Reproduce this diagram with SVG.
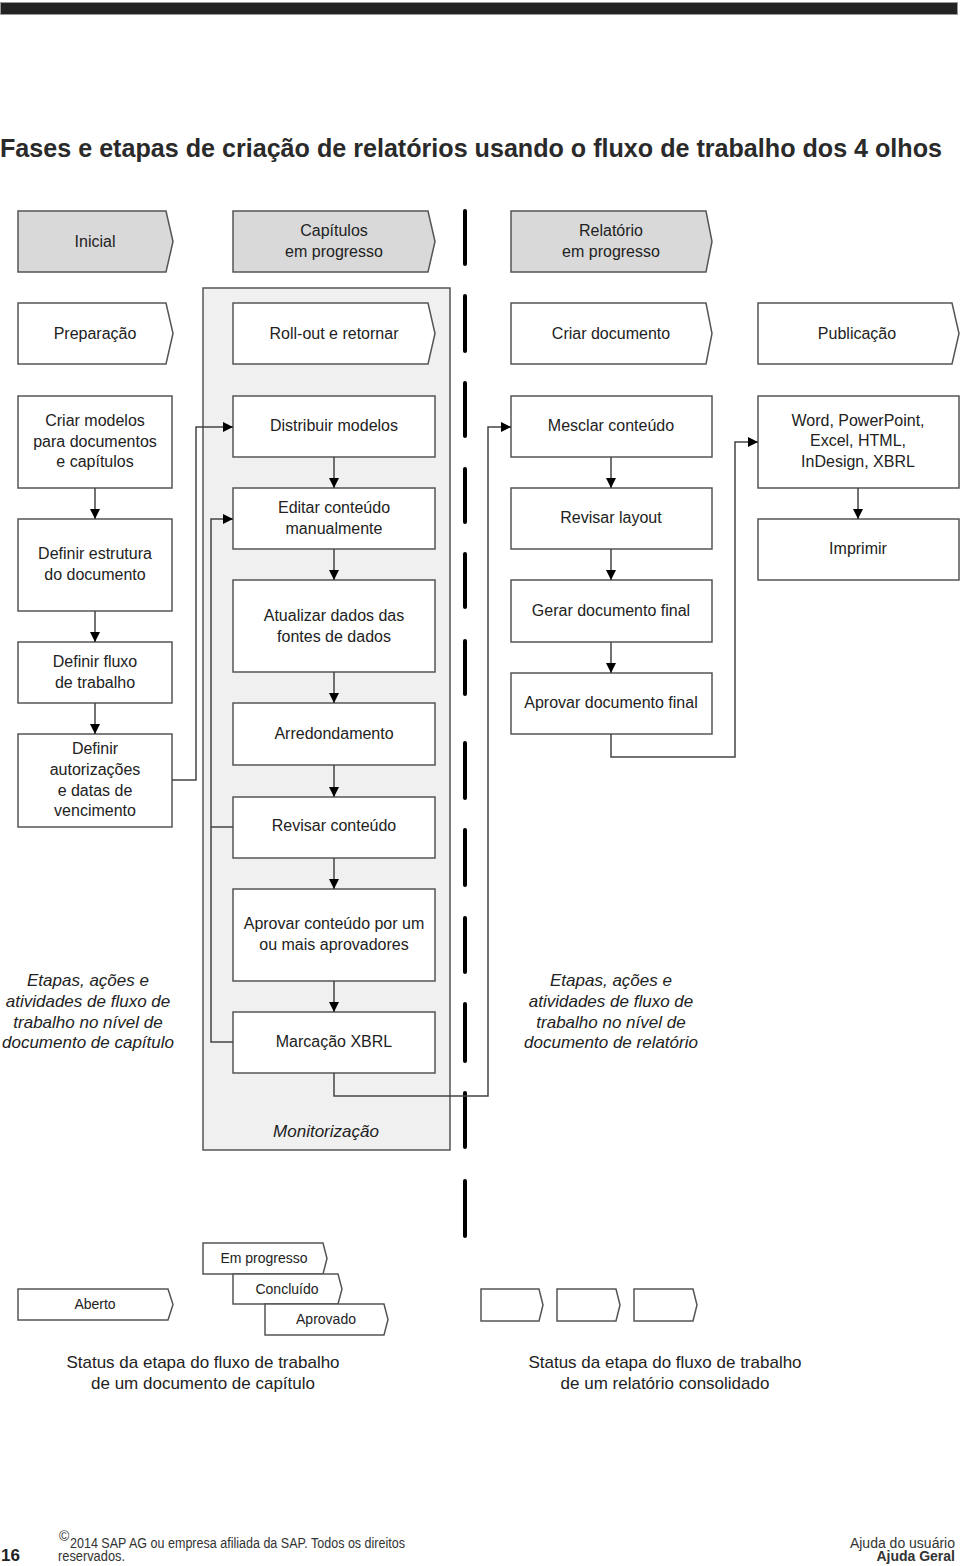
<svg xmlns="http://www.w3.org/2000/svg" width="960" height="1566" viewBox="0 0 960 1566">
<style>
.box{fill:#fff;stroke:#555;stroke-width:1.5}
.hdr{fill:#d9d9d9;stroke:#555;stroke-width:1.5}
.t{font-family:"Liberation Sans",Arial,sans-serif;font-size:16px;fill:#222;text-anchor:middle}
.ts{font-family:"Liberation Sans",Arial,sans-serif;font-size:14px;fill:#222;text-anchor:middle}
.ti{font-family:"Liberation Sans",Arial,sans-serif;font-size:17px;font-style:italic;fill:#222;text-anchor:middle}
.st{font-family:"Liberation Sans",Arial,sans-serif;font-size:17px;fill:#222;text-anchor:middle}
.c{fill:none;stroke:#444;stroke-width:1.5}
.dash{stroke:#000;stroke-width:4;stroke-linecap:round}
.f{font-family:"Liberation Sans",Arial,sans-serif;font-size:14px;fill:#333}
</style>
<defs>
<marker id="ah" viewBox="0 0 10 10" refX="10" refY="5" markerWidth="10" markerHeight="10" markerUnits="userSpaceOnUse" orient="auto">
<path d="M0,0 L10,5 L0,10 Z" fill="#000"/>
</marker>
</defs>
<rect width="960" height="1566" fill="#fff"/>
<rect x="0.5" y="2.5" width="957" height="12" fill="#222" stroke="#999" stroke-width="1"/>
<text x="0" y="157" font-family="Liberation Sans,Arial,sans-serif" font-size="25" font-weight="bold" fill="#2a2a2a" textLength="942" lengthAdjust="spacingAndGlyphs">Fases e etapas de criação de relatórios usando o fluxo de trabalho dos 4 olhos</text>

<g id="monitorizacao">
<rect x="203" y="288" width="247" height="862" fill="#f0f0f0" stroke="#555" stroke-width="1.5"/>
<text x="326" y="1137" class="ti" font-size="20">Monitorização</text>
</g>

<g id="divider">
<line class="dash" x1="465" y1="211" x2="465" y2="264"/>
<line class="dash" x1="465" y1="296" x2="465" y2="351"/>
<line class="dash" x1="465" y1="383" x2="465" y2="436"/>
<line class="dash" x1="465" y1="469" x2="465" y2="522"/>
<line class="dash" x1="465" y1="554" x2="465" y2="607"/>
<line class="dash" x1="465" y1="641" x2="465" y2="694"/>
<line class="dash" x1="465" y1="743" x2="465" y2="798"/>
<line class="dash" x1="465" y1="830" x2="465" y2="885"/>
<line class="dash" x1="465" y1="918" x2="465" y2="972"/>
<line class="dash" x1="465" y1="1004" x2="465" y2="1061"/>
<line class="dash" x1="465" y1="1093" x2="465" y2="1147"/>
<line class="dash" x1="465" y1="1181" x2="465" y2="1236"/>
</g>

<g id="h-inicial"><path class="hdr" d="M18,211 H166 L173,241.5 L166,272 H18 Z"/><text class="t" x="95" y="247">Inicial</text></g>
<g id="h-capitulos"><path class="hdr" d="M233,211 H428 L435,241.5 L428,272 H233 Z"/><text class="t" x="334" y="236">Capítulos</text><text class="t" x="334" y="257">em progresso</text></g>
<g id="h-relatorio"><path class="hdr" d="M511,211 H706 L712,241.5 L706,272 H511 Z"/><text class="t" x="611" y="236">Relatório</text><text class="t" x="611" y="257">em progresso</text></g>

<g id="p-preparacao"><path class="box" d="M18,303 H166 L173,333.5 L166,364 H18 Z"/><text class="t" x="95" y="339">Preparação</text></g>
<g id="p-rollout"><path class="box" d="M233,303 H428 L435,333.5 L428,364 H233 Z"/><text class="t" x="334" y="339">Roll-out e retornar</text></g>
<g id="p-criar"><path class="box" d="M511,303 H706 L712,333.5 L706,364 H511 Z"/><text class="t" x="611" y="339">Criar documento</text></g>
<g id="p-publicacao"><path class="box" d="M758,303 H952 L959,333.5 L952,364 H758 Z"/><text class="t" x="857" y="339">Publicação</text></g>

<g id="n-criarmodelos"><rect class="box" x="18" y="396" width="154" height="92"/><text class="t" x="95" y="426">Criar modelos</text><text class="t" x="95" y="447">para documentos</text><text class="t" x="95" y="467">e capítulos</text></g>
<g id="n-definirestrutura"><rect class="box" x="18" y="519" width="154" height="92"/><text class="t" x="95" y="559">Definir estrutura</text><text class="t" x="95" y="580">do documento</text></g>
<g id="n-definirfluxo"><rect class="box" x="18" y="642" width="154" height="61"/><text class="t" x="95" y="667">Definir fluxo</text><text class="t" x="95" y="688">de trabalho</text></g>
<g id="n-definirautor"><rect class="box" x="18" y="734" width="154" height="93"/><text class="t" x="95" y="754">Definir</text><text class="t" x="95" y="775">autorizações</text><text class="t" x="95" y="796">e datas de</text><text class="t" x="95" y="816">vencimento</text></g>

<g id="n-distribuir"><rect class="box" x="233" y="396" width="202" height="61"/><text class="t" x="334" y="431">Distribuir modelos</text></g>
<g id="n-editar"><rect class="box" x="233" y="488" width="202" height="61"/><text class="t" x="334" y="513">Editar conteúdo</text><text class="t" x="334" y="534">manualmente</text></g>
<g id="n-atualizar"><rect class="box" x="233" y="580" width="202" height="92"/><text class="t" x="334" y="621">Atualizar dados das</text><text class="t" x="334" y="642">fontes de dados</text></g>
<g id="n-arredondamento"><rect class="box" x="233" y="703" width="202" height="62"/><text class="t" x="334" y="739">Arredondamento</text></g>
<g id="n-revisarconteudo"><rect class="box" x="233" y="797" width="202" height="61"/><text class="t" x="334" y="831">Revisar conteúdo</text></g>
<g id="n-aprovarconteudo"><rect class="box" x="233" y="889" width="202" height="92"/><text class="t" x="334" y="929">Aprovar conteúdo por um</text><text class="t" x="334" y="950">ou mais aprovadores</text></g>
<g id="n-marcacao"><rect class="box" x="233" y="1012" width="202" height="61"/><text class="t" x="334" y="1047">Marcação XBRL</text></g>

<g id="n-mesclar"><rect class="box" x="511" y="396" width="201" height="61"/><text class="t" x="611" y="431">Mesclar conteúdo</text></g>
<g id="n-revisarlayout"><rect class="box" x="511" y="488" width="201" height="61"/><text class="t" x="611" y="523">Revisar layout</text></g>
<g id="n-gerar"><rect class="box" x="511" y="580" width="201" height="62"/><text class="t" x="611" y="616">Gerar documento final</text></g>
<g id="n-aprovardoc"><rect class="box" x="511" y="673" width="201" height="61"/><text class="t" x="611" y="708">Aprovar documento final</text></g>

<g id="n-word"><rect class="box" x="758" y="396" width="201" height="92"/><text class="t" x="858" y="426">Word, PowerPoint,</text><text class="t" x="858" y="446">Excel, HTML,</text><text class="t" x="858" y="467">InDesign, XBRL</text></g>
<g id="n-imprimir"><rect class="box" x="758" y="519" width="201" height="61"/><text class="t" x="858" y="554">Imprimir</text></g>

<g id="connectors">
<path class="c" d="M95,488 V519" marker-end="url(#ah)"/>
<path class="c" d="M95,611 V642" marker-end="url(#ah)"/>
<path class="c" d="M95,703 V734" marker-end="url(#ah)"/>
<path class="c" d="M172,780 H196 V427 H233" marker-end="url(#ah)"/>
<path class="c" d="M233,827 H211"/>
<path class="c" d="M233,1042 H211 V519 H233" marker-end="url(#ah)"/>
<path class="c" d="M334,457 V488" marker-end="url(#ah)"/>
<path class="c" d="M334,549 V580" marker-end="url(#ah)"/>
<path class="c" d="M334,672 V703" marker-end="url(#ah)"/>
<path class="c" d="M334,765 V797" marker-end="url(#ah)"/>
<path class="c" d="M334,858 V889" marker-end="url(#ah)"/>
<path class="c" d="M334,981 V1012" marker-end="url(#ah)"/>
<path class="c" d="M334,1073 V1096 H488 V427 H511" marker-end="url(#ah)"/>
<path class="c" d="M611,457 V488" marker-end="url(#ah)"/>
<path class="c" d="M611,549 V580" marker-end="url(#ah)"/>
<path class="c" d="M611,642 V673" marker-end="url(#ah)"/>
<path class="c" d="M611,734 V757 H735 V442 H758" marker-end="url(#ah)"/>
<path class="c" d="M858,488 V519" marker-end="url(#ah)"/>
</g>

<g id="note-left">
<text class="ti" x="88" y="986">Etapas, ações e</text>
<text class="ti" x="88" y="1007">atividades de fluxo de</text>
<text class="ti" x="88" y="1028">trabalho no nível de</text>
<text class="ti" x="88" y="1048">documento de capítulo</text>
</g>
<g id="note-right">
<text class="ti" x="611" y="986">Etapas, ações e</text>
<text class="ti" x="611" y="1007">atividades de fluxo de</text>
<text class="ti" x="611" y="1028">trabalho no nível de</text>
<text class="ti" x="611" y="1048">documento de relatório</text>
</g>

<g id="s-emprogresso"><path class="box" d="M203,1243 H323 L327,1258.5 L323,1274 H203 Z"/><text class="ts" x="264" y="1263">Em progresso</text></g>
<g id="s-concluido"><path class="box" d="M233,1274 H338 L342,1289 L338,1304 H233 Z"/><text class="ts" x="287" y="1294">Concluído</text></g>
<g id="s-aprovado"><path class="box" d="M265,1304 H384 L388,1319.5 L384,1335 H265 Z"/><text class="ts" x="326" y="1324">Aprovado</text></g>
<g id="s-aberto"><path class="box" d="M18,1289 H168 L173,1304.5 L168,1320 H18 Z"/><text class="ts" x="95" y="1309">Aberto</text></g>
<g id="s-r1"><path class="box" d="M481,1289 H539 L543,1305 L539,1321 H481 Z"/></g>
<g id="s-r2"><path class="box" d="M557,1289 H616 L620,1305 L616,1321 H557 Z"/></g>
<g id="s-r3"><path class="box" d="M634,1289 H693 L697,1305 L693,1321 H634 Z"/></g>

<g id="caption-left">
<text class="st" x="203" y="1368">Status da etapa do fluxo de trabalho</text>
<text class="st" x="203" y="1389">de um documento de capítulo</text>
</g>
<g id="caption-right">
<text class="st" x="665" y="1368">Status da etapa do fluxo de trabalho</text>
<text class="st" x="665" y="1389">de um relatório consolidado</text>
</g>

<g id="footer">
<text x="1" y="1561" font-family="Liberation Sans,Arial,sans-serif" font-size="17" font-weight="bold" fill="#222">16</text>
<text x="59" y="1541" class="f" font-size="9">©</text>
<text x="70" y="1548" class="f" textLength="335" lengthAdjust="spacingAndGlyphs">2014 SAP AG ou empresa afiliada da SAP. Todos os direitos</text>
<text x="58" y="1561" class="f" textLength="67" lengthAdjust="spacingAndGlyphs">reservados.</text>
<text x="955" y="1548" class="f" font-size="12.5" text-anchor="end">Ajuda do usuário</text>
<text x="955" y="1561" class="f" font-size="12.5" text-anchor="end" font-weight="bold" fill="#222">Ajuda Geral</text>
</g>
</svg>
